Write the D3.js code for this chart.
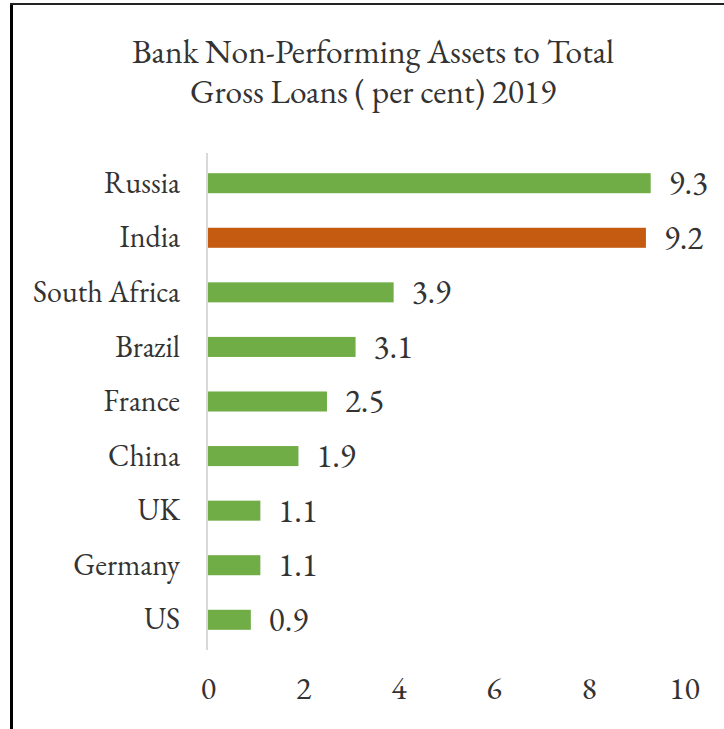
<!DOCTYPE html>
<html>
<head>
<meta charset="utf-8">
<script src="https://cdn.jsdelivr.net/npm/d3@7"></script>
<style>
  body { margin: 0; background: #fff; }
</style>
</head>
<body>
<div id="chart"></div>
<script>
// data
var countries = ["Russia", "India", "South Africa", "Brazil", "France", "China", "UK", "Germany", "US"];
var npaValues = [9.3, 9.2, 3.9, 3.1, 2.5, 1.9, 1.1, 1.1, 0.9];
var highlight = "India";
var tickValues = [0, 2, 4, 6, 8, 10];
var titleLines = ["Bank Non-Performing Assets to Total", "Gross Loans ( per cent) 2019"];

var width = 724, height = 729;
var serif = "'EB Garamond', 'Liberation Serif', serif";
var textColor = "#333";

var svg = d3.select("#chart")
  .append("svg")
  .attr("width", width)
  .attr("height", height);

// set font on a text selection
function fontIt(sel, size) {
  sel.style("font-family", serif)
    .style("font-size", size + "px")
    .style("font-variant-numeric", "lining-nums")
    .attr("fill", textColor);
}

// frame (left + top edges only show)
svg.append("line")
  .attr("x1", 11.5).attr("x2", 11.5)
  .attr("y1", 3).attr("y2", height)
  .attr("stroke", "#000").attr("stroke-width", 3);
svg.append("line")
  .attr("x1", 10).attr("x2", width)
  .attr("y1", 4).attr("y2", 4)
  .attr("stroke", "#222").attr("stroke-width", 2);

// title
svg.append("g")
  .selectAll("text")
  .data(titleLines)
  .join("text")
  .attr("x", 373)
  .attr("y", function(d, i) { return 63 + i * 40; })
  .attr("text-anchor", "middle")
  .call(fontIt, 33.5)
  .text(function(d) { return d; });

// scales
var x = d3.scaleLinear()
  .domain([0, 10])
  .range([208, 684]);

var y = d3.scaleBand()
  .domain(countries)
  .range([153, 650])
  .paddingInner(0.633)
  .paddingOuter(0.37);

// bars
svg.append("g")
  .selectAll("rect")
  .data(countries)
  .join("rect")
  .attr("x", x(0))
  .attr("y", function(d) { return y(d); })
  .attr("width", function(d, i) { return x(npaValues[i]) - x(0); })
  .attr("height", y.bandwidth())
  .attr("fill", function(d) { return d === highlight ? "#c55a11" : "#70ad47"; });

// value labels
svg.append("g")
  .selectAll("text")
  .data(countries)
  .join("text")
  .attr("x", function(d, i) { return x(npaValues[i]) + 18; })
  .attr("y", function(d) { return y(d) + y.bandwidth() / 2; })
  .attr("dy", "0.33em")
  .call(fontIt, 33)
  .text(function(d, i) { return npaValues[i]; });

// y axis (category labels + light line)
var yAxis = svg.append("g")
  .attr("transform", "translate(" + x(0) + ",0)")
  .call(d3.axisLeft(y).tickSize(0).tickPadding(28));
yAxis.select(".domain")
  .attr("d", "M-1," + y.range()[0] + "V" + y.range()[1])
  .attr("stroke", "#d9d9d9").attr("stroke-width", 2);
yAxis.selectAll("text")
  .call(fontIt, 30);

// x axis labels (no line)
var xAxis = svg.append("g")
  .attr("transform", "translate(0,664)")
  .call(d3.axisBottom(x).tickValues(tickValues).tickSize(0).tickPadding(12));
xAxis.select(".domain").remove();
xAxis.selectAll("text")
  .call(fontIt, 32);
</script>
</body>
</html>
